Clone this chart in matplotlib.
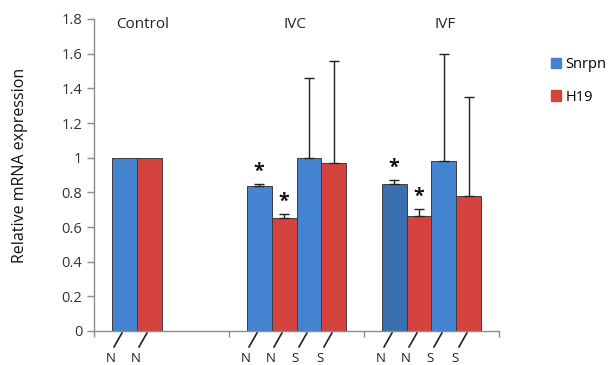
import numpy as np
import matplotlib
matplotlib.use('Agg')
import matplotlib.pyplot as plt
import matplotlib.transforms as mtransforms

plt.rcParams['font.family'] = ['Open Sans', 'DejaVu Sans']

#%% Data
groups      = ['Control', 'IVC', 'IVF']
snrpn_n     = [1.00, 0.835, 0.846]
h19_n       = [1.00, 0.652, 0.664]
snrpn_s     = [np.nan, 1.00, 0.98]
h19_s       = [np.nan, 0.97, 0.78]
snrpn_n_err = [0.0, 0.015, 0.025]
h19_n_err   = [0.0, 0.022, 0.04]
snrpn_s_err = [0.0, 0.46, 0.62]
h19_s_err   = [0.0, 0.59, 0.57]
bar_labels  = ['N', 'N', 'S', 'S']
y_ticks     = [0, 0.2, 0.4, 0.6, 0.8, 1, 1.2, 1.4, 1.6, 1.8]
star_bars   = [(1, 0), (1, 1), (2, 0), (2, 1)]   # (group, slot) with '*'

#%% Styles
blue, blue_dk, red = '#4383cf', '#3a6fb0', '#d5433f'
edge  = '#3c3c3c'
axcol = '#8c8c8c'
w     = 0.185

fig = plt.figure(figsize=(6.09, 3.65), dpi=100)
ax  = fig.add_axes([94/609, 1-331/365, (499-94)/609, (331-19)/365])

series = [(snrpn_n, snrpn_n_err, blue), (h19_n, h19_n_err, red),
          (snrpn_s, snrpn_s_err, blue), (h19_s, h19_s_err, red)]
x = np.arange(len(groups))
for k, (vals, errs, col) in enumerate(series):
    pos  = x + (k - 1.5)*w
    cols = [col]*len(groups)
    if k == 0:
        cols[2] = blue_dk
    vals = np.array(vals, dtype=float)
    ok   = ~np.isnan(vals)
    ax.bar(pos[ok], vals[ok], width=w, color=np.array(cols)[ok], edgecolor=edge, linewidth=0.7, zorder=2)
    errs = np.array(errs)
    show = ok & (errs > 0)
    ax.errorbar(pos[show], vals[show], yerr=[np.zeros(show.sum()), errs[show]], fmt='none',
                ecolor='#222222', elinewidth=1.0, capsize=3.5, capthick=1.0, zorder=3)

# stars
for g, s in star_bars:
    vals, errs, _ = series[s]
    ax.text(x[g] + (s - 1.5)*w, vals[g] + errs[g] + 0.012, '*', ha='center', va='bottom',
            fontsize=14, fontweight='bold', color='#111111')

# group titles
title_x = [-0.14, 0.99, 2.10]
for tx, g in zip(title_x, groups):
    ax.text(tx, 1.77, g, ha='center', va='center', fontsize=11, color='#222222')

# slashes and N/S labels under bars
trans = mtransforms.blended_transform_factory(ax.transData, ax.transAxes)
for g in range(len(groups)):
    for k in range(4):
        if np.isnan(series[k][0][g]):
            continue
        c = x[g] + (k - 1.5)*w
        ax.plot([c - 0.015, c - 0.074], [-0.006, -0.051], color='#222222', lw=1.2,
                transform=trans, clip_on=False)
        ax.text(c - 0.10, -0.068, bar_labels[k], ha='center', va='top', fontsize=9.5,
                color='#222222', transform=trans, clip_on=False)

ax.set_xlim(-0.5, 2.5)
ax.set_ylim(0, 1.8)
ax.set_yticks(y_ticks)
ax.set_yticklabels([f'{t:g}' for t in y_ticks], fontsize=10.5, color='#333333')
ax.set_xticks([])
ax.set_xticks([-0.5, 0.5, 1.5, 2.5], minor=True)
ax.tick_params(axis='x', which='minor', length=4, color=axcol, width=1)
ax.tick_params(axis='y', length=5, color=axcol, width=1)
for sp in ['top', 'right']:
    ax.spines[sp].set_visible(False)
for sp in ['left', 'bottom']:
    ax.spines[sp].set_color(axcol)
    ax.spines[sp].set_linewidth(1)

fig.text(20/609, 1-165/365, 'Relative mRNA expression', rotation=90, ha='center', va='center',
         fontsize=11.5, color='#111111')

handles = [plt.Rectangle((0, 0), 1, 1, color=blue), plt.Rectangle((0, 0), 1, 1, color=red)]
fig.legend(handles, ['Snrpn', 'H19'], loc='upper left', bbox_to_anchor=(538/609, 1-44/365),
           frameon=False, fontsize=10.5, handlelength=0.7, handleheight=0.7, handletextpad=0.3,
           labelspacing=1.2)

fig.savefig('out.png', dpi=100)
